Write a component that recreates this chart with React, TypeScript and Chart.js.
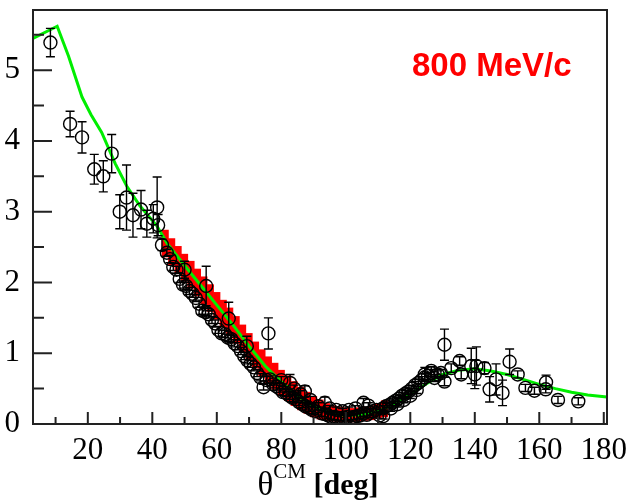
import { useEffect, useRef } from 'react';
import { Chart, registerables } from 'chart.js';
Chart.register(...registerables);

// Measured data points: angle (deg), cross section, error
const dataTheta = [
  8.4, 14.5, 18.2, 22.0, 24.8, 27.4, 29.9, 32.0, 34.0, 36.5, 38.3, 40.3, 41.5, 41.8, 43.0,
  44.5, 45.5, 46.5, 47.5, 48.5, 49.5, 50.5, 51.5, 52.5, 53.5, 54.5, 55.5, 56.5, 57.5, 58.5, 59.5,
  60.5, 61.5, 62.5, 63.5, 64.5, 65.5, 66.5, 67.5, 68.5, 69.5, 70.5, 71.5, 72.5, 73.5, 74.5, 75.5,
  76.5, 77.5, 78.5, 79.5, 80.5, 81.5, 82.5, 83.5, 84.5, 85.5, 86.5, 87.5, 88.5, 89.5, 90.5, 91.5,
  92.5, 93.5, 94.5, 95.5, 96.5, 97.5, 98.5, 99.5, 100.5, 101.5, 102.5, 103.5, 104.5, 105.5, 106.5,
  107.5, 108.5, 109.5, 110.5, 111.5, 112.5, 113.5, 114.5, 115.5, 116.5, 117.5, 118.5, 119.5, 120.5,
  121.5, 122.5, 123.5, 124.5, 125.5, 126.5, 127.5, 128.5, 129.5,
  50.0, 56.7, 63.7, 69.3, 76.0, 82.7, 87.3, 93.5, 80.0, 84.0, 86.0, 89.0, 95.0, 97.0, 99.0, 101.0,
  103.0, 105.5, 107.0, 111.6, 114.0, 116.0, 118.0, 120.0, 122.0,
  124.5, 126.5, 130.6, 130.6, 132.7, 135.3, 135.8, 138.9, 140.5, 140.0, 143.0, 144.6, 146.6, 148.6,
  150.8, 153.3, 155.7, 158.5, 162.1, 162.0, 165.8, 172.1,
];
const dataSigma = [
  5.39, 4.24, 4.05, 3.60, 3.50, 3.82, 3.00, 3.20, 2.95, 3.03, 2.83, 2.90, 3.06, 2.81, 2.53,
  2.42, 2.33, 2.22, 2.18, 2.05, 1.97, 1.95, 1.88, 1.84, 1.78, 1.70, 1.60, 1.58, 1.55, 1.47, 1.42,
  1.33, 1.28, 1.27, 1.22, 1.20, 1.14, 1.10, 1.03, 0.96, 0.90, 0.85, 0.80, 0.72, 0.66, 0.52, 0.62,
  0.63, 0.56, 0.53, 0.50, 0.45, 0.44, 0.40, 0.37, 0.35, 0.31, 0.28, 0.25, 0.23, 0.20, 0.18, 0.25,
  0.15, 0.14, 0.12, 0.10, 0.10, 0.09, 0.08, 0.09, 0.10, 0.08, 0.10, 0.11, 0.12, 0.15, 0.13,
  0.16, 0.18, 0.20, 0.12, 0.22, 0.25, 0.27, 0.30, 0.33, 0.36, 0.40, 0.43, 0.46, 0.50,
  0.55, 0.58, 0.62, 0.66, 0.68, 0.72, 0.65, 0.70, 0.72,
  2.18, 1.95, 1.49, 1.10, 1.28, 0.58, 0.46, 0.30, 0.62, 0.50, 0.42, 0.34, 0.22, 0.20, 0.18, 0.20,
  0.22, 0.30, 0.26, 0.11, 0.22, 0.28, 0.34, 0.40, 0.48,
  0.70, 0.75, 1.12, 0.60, 0.79, 0.89, 0.70, 0.82, 0.82, 0.70, 0.79, 0.49, 0.63, 0.44,
  0.88, 0.70, 0.51, 0.47, 0.59, 0.49, 0.34, 0.32,
];
const dataErr = [
  0.20, 0.18, 0.22, 0.21, 0.22, 0.27, 0.24, 0.46, 0.31, 0.27, 0.19, 0.20, 0.43, 0.15, 0.08,
  0.05, 0.05, 0.05, 0.05, 0.05, 0.05, 0.05, 0.05, 0.05, 0.05, 0.05, 0.05, 0.05, 0.05, 0.05, 0.05,
  0.05, 0.05, 0.05, 0.05, 0.05, 0.05, 0.05, 0.05, 0.05, 0.05, 0.05, 0.05, 0.05, 0.05, 0.04, 0.05,
  0.05, 0.05, 0.05, 0.05, 0.05, 0.05, 0.05, 0.05, 0.05, 0.05, 0.05, 0.05, 0.05, 0.05, 0.05, 0.05,
  0.04, 0.04, 0.04, 0.04, 0.04, 0.04, 0.04, 0.04, 0.04, 0.04, 0.04, 0.04, 0.04, 0.04, 0.04,
  0.04, 0.04, 0.04, 0.04, 0.04, 0.04, 0.04, 0.04, 0.04, 0.04, 0.04, 0.04, 0.04, 0.04,
  0.05, 0.05, 0.05, 0.05, 0.05, 0.05, 0.05, 0.05, 0.05,
  0.12, 0.28, 0.23, 0.14, 0.22, 0.12, 0.08, 0.08, 0.05, 0.05, 0.05, 0.05, 0.04, 0.04, 0.04, 0.04,
  0.04, 0.06, 0.04, 0.04, 0.04, 0.04, 0.04, 0.04, 0.05,
  0.10, 0.06, 0.22, 0.06, 0.06, 0.06, 0.06, 0.25, 0.27, 0.20, 0.08, 0.18, 0.22, 0.18,
  0.18, 0.05, 0.05, 0.05, 0.10, 0.05, 0.05, 0.05,
];

// Theory curve (green)
const curveTheta = [3, 10.5, 14, 18.2, 21, 24.3, 28.5, 32.1, 36.2, 41.4, 44.5, 50, 55, 60, 65, 70, 75, 80, 85, 90, 95, 100, 105, 110, 115, 120, 125, 130, 135, 140, 145, 150, 155, 160, 165, 170, 175, 181];
const curveSigma = [5.45, 5.62, 5.2, 4.62, 4.37, 4.12, 3.68, 3.36, 3.08, 2.8, 2.56, 2.24, 1.96, 1.68, 1.4, 1.1, 0.82, 0.6, 0.4, 0.25, 0.16, 0.12, 0.13, 0.18, 0.28, 0.42, 0.57, 0.7, 0.76, 0.78, 0.75, 0.7, 0.63, 0.56, 0.5, 0.45, 0.41, 0.38];

// Red band (step boxes)
const bandTheta = [44, 46, 48, 50, 52, 54, 56, 58, 60, 62, 64, 66, 68, 70, 72, 74, 76, 78, 80, 82, 84, 86, 88, 90, 92, 94, 96, 98, 100, 102, 104, 106, 108, 110, 112];
const bandLow = [2.36, 2.24, 2.13, 2.02, 1.92, 1.81, 1.7, 1.59, 1.48, 1.37, 1.26, 1.14, 1.02, 0.9, 0.79, 0.68, 0.58, 0.49, 0.4, 0.33, 0.26, 0.2, 0.15, 0.1, 0.07, 0.05, 0.04, 0.03, 0.03, 0.03, 0.04, 0.05, 0.06, 0.08, 0.1];
const bandHigh = [2.74, 2.62, 2.51, 2.4, 2.3, 2.19, 2.08, 1.97, 1.86, 1.75, 1.64, 1.52, 1.4, 1.28, 1.16, 1.05, 0.95, 0.86, 0.76, 0.68, 0.6, 0.52, 0.45, 0.39, 0.34, 0.29, 0.26, 0.24, 0.23, 0.22, 0.23, 0.24, 0.26, 0.29, 0.33];

const xTickLabels = [20, 40, 60, 80, 100, 120, 140, 160, 180];
const yTickLabels = [0, 1, 2, 3, 4, 5];
const xMinor = [10, 30, 50, 70, 90, 110, 130, 150, 170];
const yMinor = [0.5, 1.5, 2.5, 3.5, 4.5, 5.5];

const decor = {
  id: 'decor',
  afterDatasetsDraw(chart: any) {
    const { ctx, scales } = chart;
    const xs = scales.x, ys = scales.y;
    ctx.save();
    ctx.strokeStyle = '#000';
    ctx.lineWidth = 1.4;
    for (let i = 0; i < dataTheta.length; i++) {
      const px = xs.getPixelForValue(dataTheta[i]);
      const p1 = ys.getPixelForValue(dataSigma[i] + dataErr[i]);
      const p2 = ys.getPixelForValue(dataSigma[i] - dataErr[i]);
      ctx.beginPath();
      ctx.moveTo(px, p1); ctx.lineTo(px, p2);
      ctx.moveTo(px - 4.5, p1); ctx.lineTo(px + 4.5, p1);
      ctx.moveTo(px - 4.5, p2); ctx.lineTo(px + 4.5, p2);
      ctx.stroke();
    }
    ctx.restore();
  },
  afterDraw(chart: any) {
    const { ctx, chartArea: a, scales } = chart;
    const xs = scales.x, ys = scales.y;
    ctx.save();
    ctx.strokeStyle = '#222';
    ctx.lineWidth = 2;
    ctx.strokeRect(a.left, a.top, a.right - a.left, a.bottom - a.top);
    ctx.beginPath();
    xTickLabels.forEach((v) => { const p = xs.getPixelForValue(v); ctx.moveTo(p, a.bottom); ctx.lineTo(p, a.bottom - 12); });
    xMinor.forEach((v) => { const p = xs.getPixelForValue(v); ctx.moveTo(p, a.bottom); ctx.lineTo(p, a.bottom - 7); });
    yTickLabels.forEach((v) => { const p = ys.getPixelForValue(v); ctx.moveTo(a.left, p); ctx.lineTo(a.left + 19, p); });
    yMinor.forEach((v) => { const p = ys.getPixelForValue(v); ctx.moveTo(a.left, p); ctx.lineTo(a.left + 11, p); });
    ctx.stroke();

    // axis title θ^CM [deg]
    ctx.fillStyle = '#000';
    ctx.textBaseline = 'alphabetic';
    const f1 = '33px "Liberation Serif"';
    const f2 = '21px "Liberation Serif"';
    const f3 = 'bold 30px "Liberation Serif"';
    ctx.font = f1; const w1 = ctx.measureText('θ').width;
    ctx.font = f2; const w2 = ctx.measureText('CM').width;
    ctx.font = f3; const w3 = ctx.measureText(' [deg]').width;
    let x0 = (a.left + a.right) / 2 - 2 - (w1 + w2 + w3) / 2;
    ctx.font = f1; ctx.fillText('θ', x0, 495); x0 += w1;
    ctx.font = f2; ctx.fillText('CM', x0, 478); x0 += w2;
    ctx.font = f3; ctx.fillText(' [deg]', x0, 494);

    // energy label
    ctx.fillStyle = '#ff0000';
    ctx.font = 'bold 33px "Liberation Sans"';
    ctx.fillText('800 MeV/c', 412, 76);
    ctx.restore();
  },
};

export default function App() {
  const ref = useRef<HTMLCanvasElement>(null);
  useEffect(() => {
    if (!ref.current) return;
    const chart = new Chart(ref.current, {
      type: 'scatter',
      data: {
        datasets: [
          {
            type: 'scatter',
            data: dataTheta.map((t, i) => ({ x: t, y: dataSigma[i] })),
            pointStyle: 'circle',
            pointRadius: 6.5,
            pointBorderWidth: 1.4,
            pointBorderColor: '#000',
            pointBackgroundColor: 'rgba(0,0,0,0)',
            order: 0,
          } as any,
          {
            type: 'line',
            data: curveTheta.map((t, i) => ({ x: t, y: curveSigma[i] })),
            borderColor: '#00ee00',
            borderWidth: 3,
            pointRadius: 0,
            tension: 0,
            fill: false,
            order: 1,
          } as any,
          {
            type: 'bar',
            data: bandTheta.map((t, i) => ({ x: t, y: [bandLow[i], bandHigh[i]] })),
            backgroundColor: '#ff0000',
            borderWidth: 0,
            barPercentage: 1,
            categoryPercentage: 1,
            order: 2,
          } as any,
        ],
      },
      options: {
        animation: false,
        responsive: false,
        devicePixelRatio: 1,
        layout: { padding: { top: 10, right: 24, left: 0, bottom: 0 } },
        plugins: { legend: { display: false }, tooltip: { enabled: false } },
        scales: {
          x: {
            type: 'linear',
            min: 3,
            max: 181,
            offset: false,
            grid: { display: false },
            border: { display: false },
            afterBuildTicks: (s: any) => { s.ticks = xTickLabels.map((v) => ({ value: v })); },
            afterFit: (s: any) => { s.height = 77; s.paddingLeft = 0; s.paddingRight = 0; },
            ticks: { color: '#000', font: { family: 'Liberation Serif', size: 31 }, padding: 0, maxRotation: 0, autoSkip: false },
          },
          y: {
            type: 'linear',
            min: 0,
            max: 5.85,
            grid: { display: false },
            border: { display: false },
            afterBuildTicks: (s: any) => { s.ticks = yTickLabels.map((v) => ({ value: v })); },
            afterFit: (s: any) => { s.width = 33; s.paddingTop = 0; s.paddingBottom = 0; },
            ticks: { color: '#000', font: { family: 'Liberation Serif', size: 31 }, padding: 5 },
          },
        },
      },
      plugins: [decor],
    } as any);
    return () => chart.destroy();
  }, []);
  return (
    <div style={{ position: 'fixed', left: 0, top: 0, width: 631, height: 501, background: '#fff' }}>
      <canvas ref={ref} width={631} height={501} />
    </div>
  );
}
